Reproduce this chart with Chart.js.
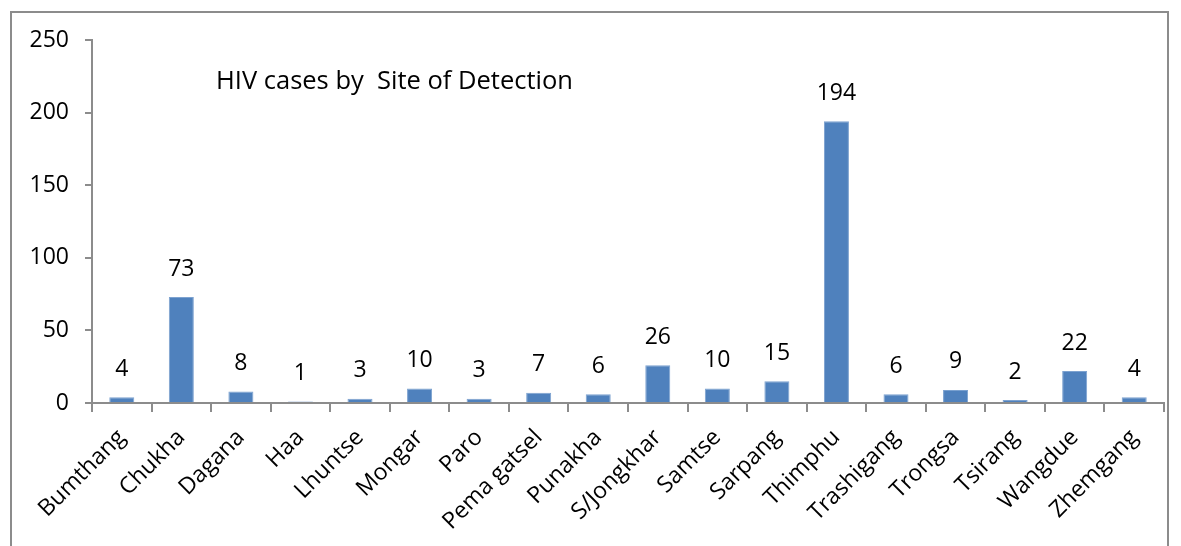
<!DOCTYPE html>
<html>
<head>
<meta charset="utf-8">
<script src="https://cdn.jsdelivr.net/npm/chart.js"></script>
<style>
  html, body { margin: 0; padding: 0; background: #fff; }
  #wrap { position: relative; width: 1181px; height: 546px; }
  #frame { position: absolute; left: 10px; top: 11px; width: 1159px; height: 560px;
           border: 2px solid #8c8c8c; box-sizing: border-box; }
  canvas { position: absolute; left: 0; top: 0; }
</style>
</head>
<body>
<div id="wrap">
  <div id="frame"></div>
  <canvas id="hivChart" width="1181" height="546"></canvas>
</div>
<script>
var sites = ['Bumthang', 'Chukha', 'Dagana', 'Haa', 'Lhuntse', 'Mongar', 'Paro', 'Pema gatsel',
             'Punakha', 'S/Jongkhar', 'Samtse', 'Sarpang', 'Thimphu', 'Trashigang', 'Trongsa',
             'Tsirang', 'Wangdue', 'Zhemgang'];
var cases = [4, 73, 8, 1, 3, 10, 3, 7, 6, 26, 10, 15, 194, 6, 9, 2, 22, 4];
var yTicks = [0, 50, 100, 150, 200, 250];
var chartTitle = 'HIV cases by  Site of Detection';

var fontFamily = '"Open Sans", sans-serif';

// draws the value above each bar
var valueLabels = {
    id: 'valueLabels',
    afterDatasetsDraw: function (chart) {
        var ctx = chart.ctx;
        var meta = chart.getDatasetMeta(0);
        ctx.save();
        ctx.font = '23px ' + fontFamily;
        ctx.fillStyle = '#000';
        ctx.textAlign = 'center';
        ctx.textBaseline = 'middle';
        meta.data.forEach(function (bar, i) {
            ctx.fillText(cases[i], bar.x, bar.y - 28);
        });
        ctx.restore();
    }
};

// title text placed inside the plot
var insideTitle = {
    id: 'insideTitle',
    afterDraw: function (chart) {
        var ctx = chart.ctx;
        ctx.save();
        ctx.font = '25.5px ' + fontFamily;
        ctx.fillStyle = '#000';
        ctx.textAlign = 'left';
        ctx.textBaseline = 'middle';
        ctx.fillText(chartTitle, 216, 82);
        ctx.restore();
    }
};

var ctx = document.getElementById('hivChart');
var hivChart = new Chart(ctx, {
    type: 'bar',
    data: {
        labels: sites,
        datasets: [{
            data: cases,
            backgroundColor: '#4F81BD',
            borderColor: '#7DA2D0',
            borderWidth: 1,
            categoryPercentage: 1.0,
            barPercentage: 0.42
        }]
    },
    options: {
        responsive: false,
        animation: false,
        layout: { padding: { left: 0, right: 17, top: 40, bottom: 0 } },
        plugins: {
            legend: { display: false },
            tooltip: { enabled: false }
        },
        scales: {
            x: {
                afterFit: function (scale) { scale.height = 143; },
                grid: {
                    offset: true,
                    drawOnChartArea: false,
                    drawTicks: true,
                    tickLength: 9,
                    color: '#8c8c8c',
                    lineWidth: 2
                },
                border: { color: '#8c8c8c', width: 2 },
                ticks: {
                    color: '#000',
                    font: { family: fontFamily, size: 23 },
                    maxRotation: 45,
                    minRotation: 45,
                    autoSkip: false,
                    padding: 12
                }
            },
            y: {
                min: 0,
                max: 250,
                afterFit: function (scale) { scale.width = 92; },
                afterBuildTicks: function (scale) {
                    scale.ticks = yTicks.map(function (v) { return { value: v }; });
                },
                grid: {
                    drawOnChartArea: false,
                    drawTicks: true,
                    tickLength: 7,
                    color: '#8c8c8c',
                    lineWidth: 2
                },
                border: { color: '#8c8c8c', width: 2 },
                ticks: {
                    color: '#000',
                    font: { family: fontFamily, size: 23 },
                    padding: 16
                }
            }
        }
    },
    plugins: [valueLabels, insideTitle]
});
</script>
</body>
</html>
